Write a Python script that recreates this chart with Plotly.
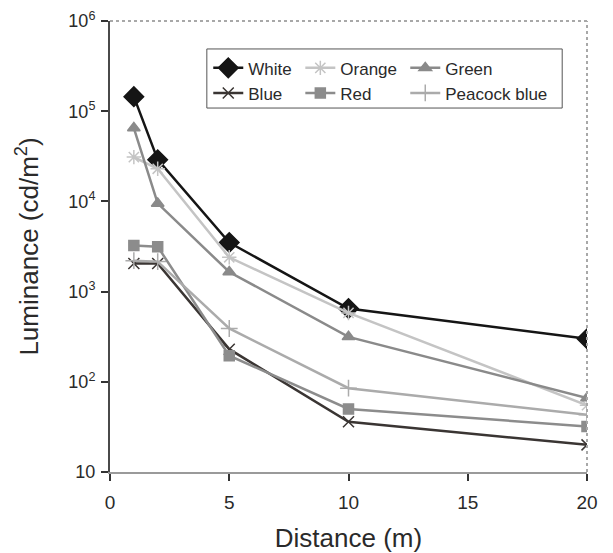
import plotly.graph_objects as go

distance = [1, 2, 5, 10, 20]
white = [145000, 29000, 3500, 650, 300]
orange = [31000, 23000, 2400, 580, 55]
green = [65000, 9500, 1650, 315, 66]
blue = [2050, 2050, 230, 36, 20]
red = [3250, 3150, 195, 50, 32]
peacock = [2200, 2150, 390, 85, 43]

y_tickvals = [10, 100, 1000, 10000, 100000, 1000000]
y_ticktext = ["10", "10<sup>2</sup>", "10<sup>3</sup>", "10<sup>4</sup>", "10<sup>5</sup>", "10<sup>6</sup>"]
x_tickvals = [0, 5, 10, 15, 20]

series = [
    ("White", white, "#151515", "diamond", 15, "legend"),
    ("Orange", orange, "#c4c4c4", "asterisk-open", 12, "legend2"),
    ("Green", green, "#8a8a8a", "triangle-up", 11, "legend3"),
    ("Blue", blue, "#3a3533", "x-thin-open", 11, "legend"),
    ("Red", red, "#8c8c8c", "square", 10, "legend2"),
    ("Peacock blue", peacock, "#ababab", "cross-thin-open", 12, "legend3"),
]

fig = go.Figure()
for name, vals, color, sym, size, lg in series:
    fig.add_trace(go.Scatter(
        x=distance, y=vals, name=name, mode="lines+markers", legend=lg,
        line=dict(color=color, width=2.5),
        marker=dict(symbol=sym, size=size, color=color, line=dict(color=color, width=1.5)),
    ))

leg_common = dict(orientation="v", yanchor="top", xanchor="left", y=0.935,
                  bgcolor="rgba(0,0,0,0)", borderwidth=0, font=dict(size=17),
                  tracegroupgap=0, itemwidth=30)

# page body adds an 8px offset, so the figure is 8px smaller and margins shifted
fig.update_layout(
    width=605, height=545,
    margin=dict(l=102, r=26, t=13, b=81, autoexpand=False),
    paper_bgcolor="white", plot_bgcolor="white",
    font=dict(family="Liberation Sans, Arial, sans-serif", color="#2a2a2a", size=18),
    showlegend=True,
    legend=dict(x=0.206, **leg_common),
    legend2=dict(x=0.399, **leg_common),
    legend3=dict(x=0.619, **leg_common),
    xaxis=dict(
        range=[0, 20], tickvals=x_tickvals, showgrid=False, zeroline=False,
        showline=True, linecolor="#9a9a9a", linewidth=2,
        ticks="outside", ticklen=7, tickwidth=2, tickcolor="#333333",
        ticklabelstandoff=5, automargin=False, ticklabeloverflow="allow",
        tickfont=dict(size=19),
        title=dict(text="Distance (m)", font=dict(size=26), standoff=17),
    ),
    yaxis=dict(
        type="log", range=[1, 6], tickvals=y_tickvals, ticktext=y_ticktext,
        showgrid=False, zeroline=False,
        showline=True, linecolor="#4a4a4a", linewidth=2,
        ticks="outside", ticklen=7, tickwidth=2, tickcolor="#333333",
        ticklabelstandoff=2, automargin=False, ticklabeloverflow="allow",
        title=dict(text="Luminance (cd/m<sup>2</sup>)", font=dict(size=26), standoff=22),
    ),
    shapes=[
        dict(type="line", xref="paper", yref="paper", x0=0, x1=1, y0=1, y1=1,
             line=dict(color="#a8a8a8", width=2, dash="dot")),
        dict(type="line", xref="paper", yref="paper", x0=1, x1=1, y0=0, y1=1,
             line=dict(color="#a8a8a8", width=2, dash="dot")),
        dict(type="rect", xref="paper", yref="paper", x0=0.203, x1=0.948, y0=0.807, y1=0.938,
             line=dict(color="#555555", width=1), fillcolor="rgba(0,0,0,0)", layer="above"),
    ],
)

fig.write_html("out.html")
